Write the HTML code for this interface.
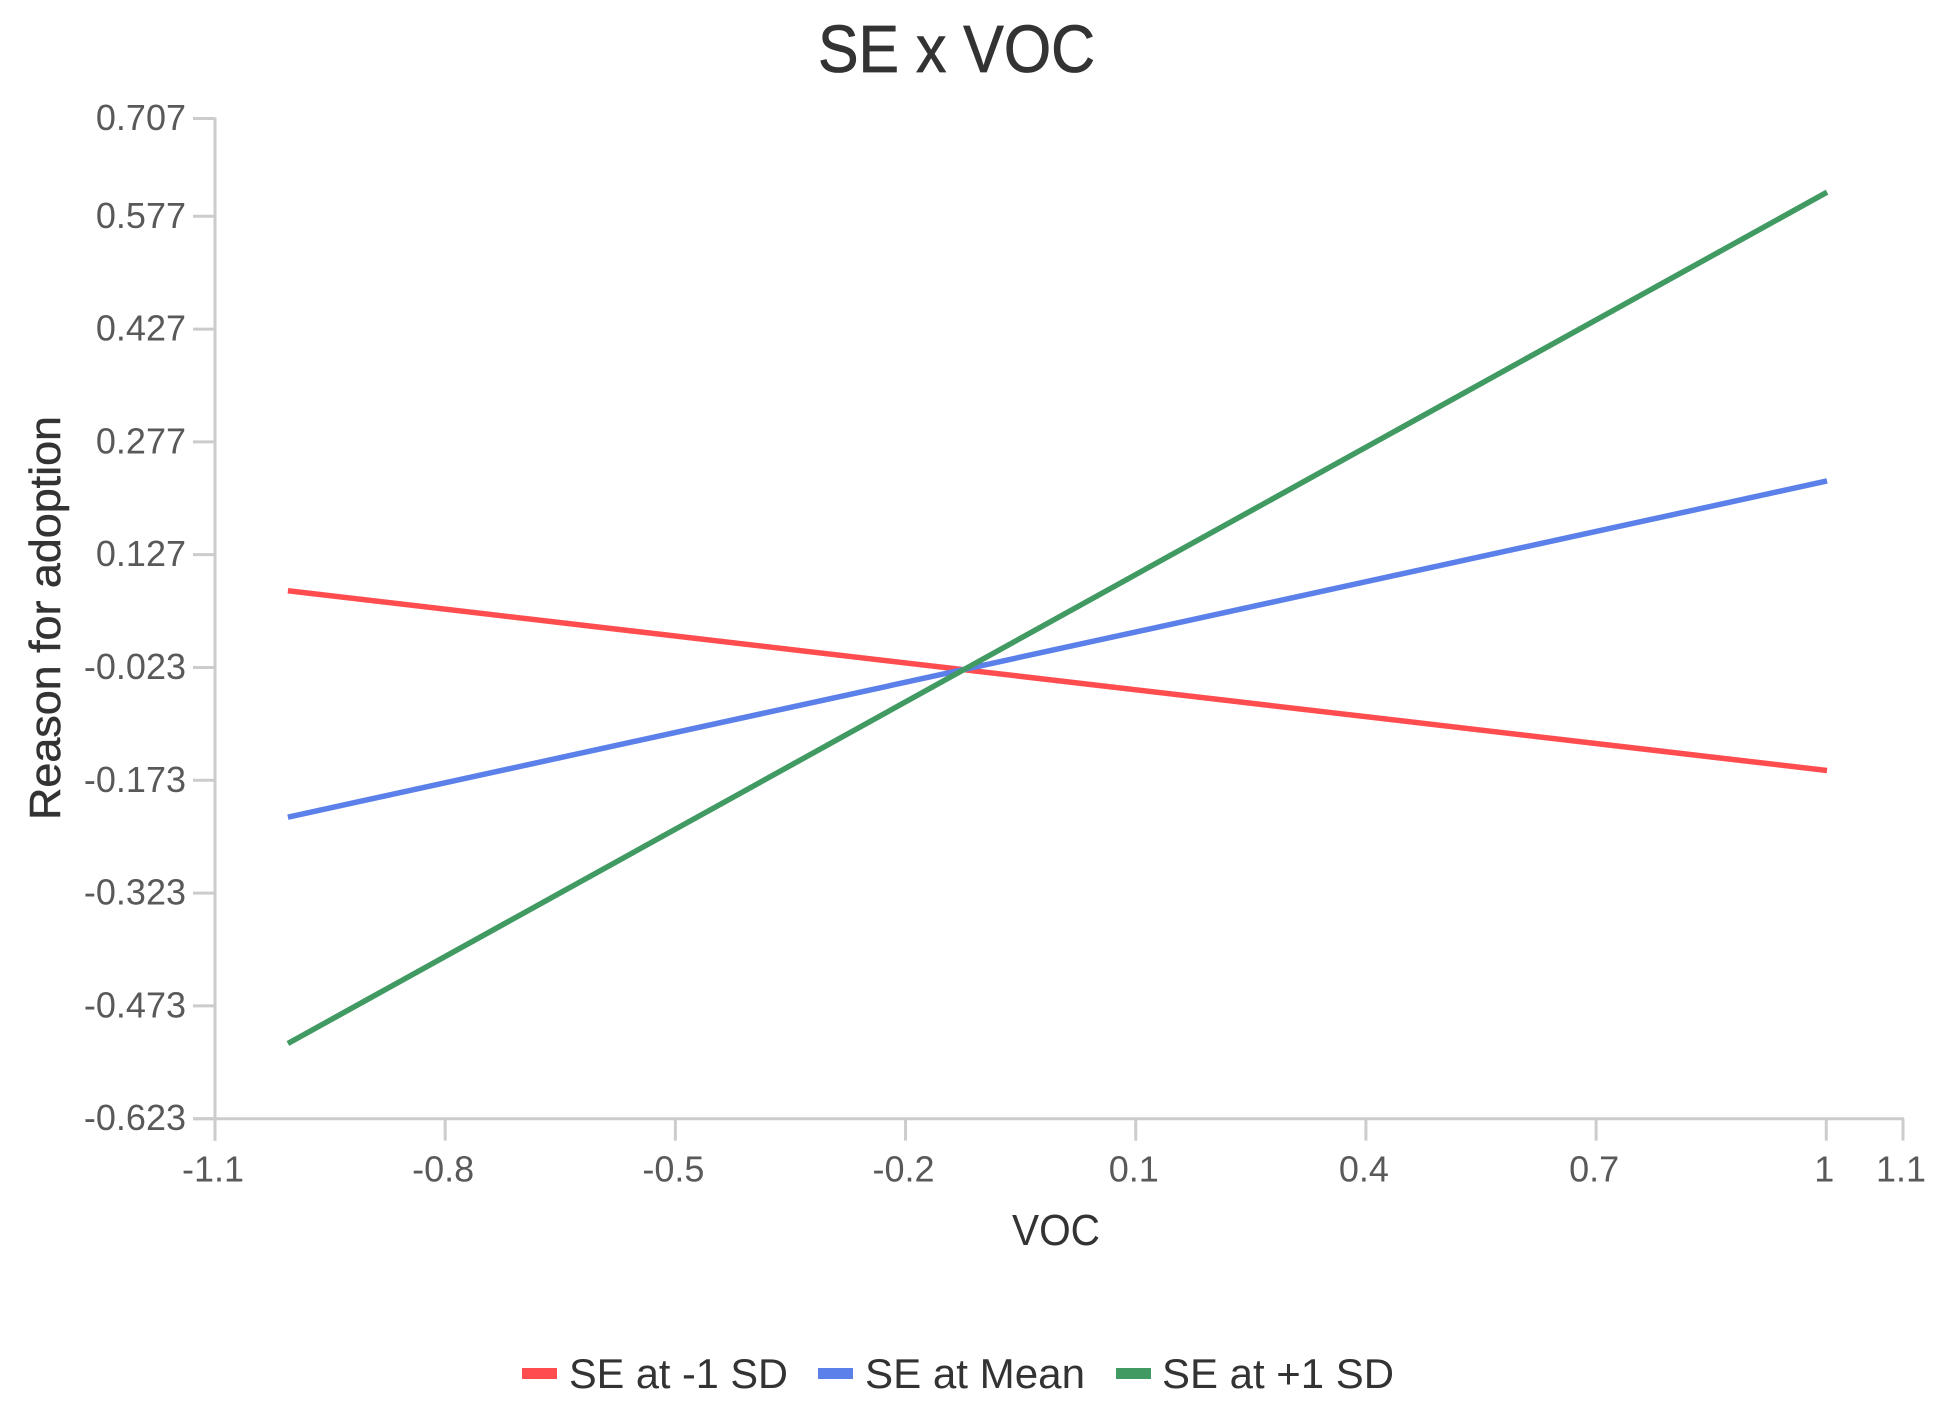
<!DOCTYPE html>
<html lang="en">
<head>
<meta charset="utf-8">
<title>SE x VOC</title>
<style>
  html, body { margin: 0; padding: 0; background: #ffffff; }
  svg { display: block; font-family: "Liberation Sans", Arial, sans-serif; }
</style>
</head>
<body>
<svg id="chart" xmlns="http://www.w3.org/2000/svg" width="1947" height="1419" viewBox="0 0 1947 1419">
  <rect x="0" y="0" width="1947" height="1419" fill="#ffffff"/>
  <text x="818" y="72" font-size="67" fill="#333333" stroke="#333333" stroke-width="0.8" textLength="277" lengthAdjust="spacingAndGlyphs">SE x VOC</text>
  <g id="axes"></g>
  <g id="series"></g>
  <text x="1012" y="1245" font-size="44" fill="#333333" textLength="88" lengthAdjust="spacingAndGlyphs">VOC</text>
  <text transform="translate(60 820) rotate(-90)" x="0" y="0" font-size="44" fill="#333333" stroke="#333333" stroke-width="0.5" textLength="404" lengthAdjust="spacingAndGlyphs">Reason for adoption</text>
  <g>
    <g>
      <rect x="524" y="1375" width="35" height="11" fill="#ff4d4f" transform="translate(-2 -7)"/>
      <text x="569" y="1388" font-size="42" fill="#333333" textLength="219" lengthAdjust="spacingAndGlyphs">SE at -1 SD</text>
    </g>
    <g>
      <rect x="820" y="1375" width="35" height="11" fill="#5b80ea" transform="translate(-2 -7)"/>
      <text x="865" y="1388" font-size="42" fill="#333333" textLength="220" lengthAdjust="spacingAndGlyphs">SE at Mean</text>
    </g>
    <g>
      <rect x="1118" y="1375" width="35" height="11" fill="#409a62" transform="translate(-2 -7)"/>
      <text x="1162" y="1388" font-size="42" fill="#333333" textLength="232" lengthAdjust="spacingAndGlyphs">SE at +1 SD</text>
    </g>
  </g>
</svg>
<script>
const xValues = [-1.005, 1.001];
const seLow = [0.079, -0.160];
const seMean = [-0.222, 0.225];
const seHigh = [-0.523, 0.609];
const xTicks = [-1.1, -0.8, -0.5, -0.2, 0.1, 0.4, 0.7, 1, 1.1];
const yTicks = [0.707, 0.577, 0.427, 0.277, 0.127, -0.023, -0.173, -0.323, -0.473, -0.623];

const SVG_NS = 'http://www.w3.org/2000/svg';
const plotLeft = 215, plotRight = 1903, plotTop = 118.5, plotBottom = 1118.7;
const xMin = xTicks[0], xMax = xTicks[xTicks.length - 1];
const yMax = yTicks[0], yMin = yTicks[yTicks.length - 1];

function xScale(v) { return plotLeft + (v - xMin) / (xMax - xMin) * (plotRight - plotLeft); }
function yScale(v) { return plotTop + (yMax - v) / (yMax - yMin) * (plotBottom - plotTop); }

function make(tag, attrs) {
  const el = document.createElementNS(SVG_NS, tag);
  for (const k in attrs) el.setAttribute(k, attrs[k]);
  return el;
}

const axes = document.getElementById('axes');
const axisStyle = { stroke: '#cccccc', 'stroke-width': 3, fill: 'none' };

const yLine = make('line', Object.assign({ x1: plotLeft, x2: plotLeft, y1: plotTop - 1, y2: plotBottom + 22 }, axisStyle));


axes.appendChild(yLine);

const xLine = make('line', Object.assign({ x1: plotLeft - 22, x2: plotRight + 1, y1: plotBottom, y2: plotBottom }, axisStyle));


axes.appendChild(xLine);

yTicks.forEach(function (t) {
  const y = yScale(t);
  const tick = make('line', Object.assign({ x1: plotLeft - 22, x2: plotLeft, y1: y, y2: y }, axisStyle));
  
  
  axes.appendChild(tick);
  const label = make('text', { x: 186, y: y + 11.5, 'font-size': 36, fill: '#595959', 'text-anchor': 'end' });
  
  
  label.textContent = String(t);
  axes.appendChild(label);
});

xTicks.forEach(function (t) {
  const x = xScale(t);
  const tick = make('line', Object.assign({ x1: x, x2: x, y1: plotBottom, y2: plotBottom + 22 }, axisStyle));
  
  
  axes.appendChild(tick);
  const label = make('text', { x: x - 2, y: 1181.5, 'font-size': 36, fill: '#595959', 'text-anchor': 'middle' });
  
  
  label.textContent = String(t);
  axes.appendChild(label);
});

const seriesGroup = document.getElementById('series');

function linePath(values) {
  return values.map(function (v, i) {
    return (i ? 'L' : 'M') + xScale(xValues[i]).toFixed(2) + ' ' + yScale(v).toFixed(2);
  }).join(' ');
}

const lowLine = make('path', { d: linePath(seLow), fill: 'none', stroke: '#ff4d4f', 'stroke-width': 5.5 });


seriesGroup.appendChild(lowLine);

const meanLine = make('path', { d: linePath(seMean), fill: 'none', stroke: '#5b80ea', 'stroke-width': 5.5 });


seriesGroup.appendChild(meanLine);

const highLine = make('path', { d: linePath(seHigh), fill: 'none', stroke: '#409a62', 'stroke-width': 5.5 });


seriesGroup.appendChild(highLine);
</script>
</body>
</html>
